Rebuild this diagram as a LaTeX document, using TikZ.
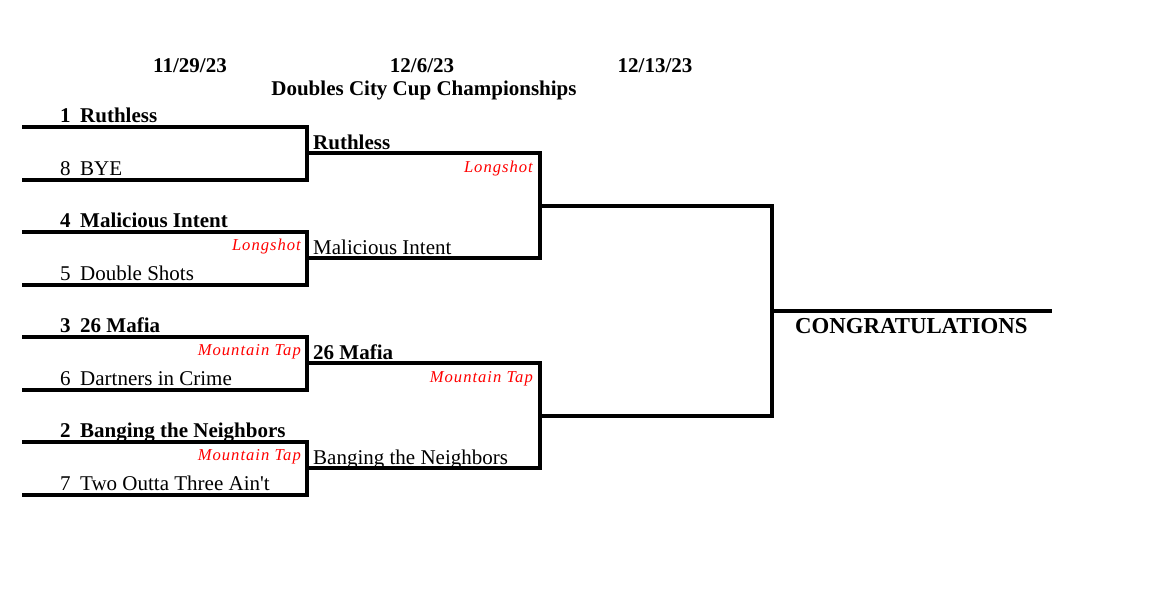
\documentclass[tikz,border=0pt]{standalone}
\usepackage{fontspec}
\setmainfont{Liberation Serif}[Ligatures=TeXOff]
\newfontfamily\notefont{Liberation Serif}[LetterSpace=6,Ligatures=TeXOff]
\begin{document}
\begin{tikzpicture}[x=1pt,y=-1pt,
  bk/.style={line width=4pt,line join=miter,line cap=butt},
  lose/.style={anchor=base west,inner sep=0pt,font=\fontsize{21}{21}\selectfont},
  win/.style={anchor=base west,inner sep=0pt,font=\fontsize{21}{21}\selectfont\bfseries},
  note/.style={anchor=base east,inner sep=0pt,text=red,font=\notefont\itshape\fontsize{16.6}{16.6}\selectfont},
  hdr/.style={anchor=base,inner sep=0pt,font=\fontsize{21}{21}\selectfont\bfseries}]
\useasboundingbox[fill=white] (0,0) rectangle (1172,600);

% headers
\node[hdr] (d1) at (190,72) {11/29/23};
\node[hdr] (d2) at (422,72) {12/6/23};
\node[hdr] (d3) at (655,72) {12/13/23};
\node[hdr] (title) at (424,95) {Doubles City Cup Championships};

% round 1 coordinates
\foreach \n/\y in {a/126.5,b/179.5,c/231.5,d/284.5,e/336.5,f/389.5,g/441.5,h/494.5}{
  \coordinate (s\n) at (22,\y);
  \coordinate (e\n) at (307,\y);
}
% round 2
\foreach \n/\y in {ab/153,cd/258,ef/363,gh/468}{
  \coordinate (s\n) at (307,\y);
  \coordinate (e\n) at (540,\y);
}
% round 3
\foreach \n/\y in {ad/205.5,eh/415.5}{
  \coordinate (s\n) at (540,\y);
  \coordinate (e\n) at (772,\y);
}
\coordinate (sfin) at (772,310.5);
\coordinate (efin) at (1052,310.5);

% brackets
\draw[bk] (sa) -- (ea) -- (eb) -- (sb);
\draw[bk] (sc) -- (ec) -- (ed) -- (sd);
\draw[bk] (se) -- (ee) -- (ef) -- (sf);
\draw[bk] (sg) -- (eg) -- (eh) -- (sh);
\draw[bk] (sab) -- (eab) -- (ecd) -- (scd);
\draw[bk] (sef) -- (eef) -- (egh) -- (sgh);
\draw[bk] (sad) -- (ead) -- (eeh) -- (seh);
\draw[bk] (sfin) -- (efin);

% round 1 teams
\node[win]  (n1) at (60,122.5) {1};  \node[win]  (t1) at (80,122.5) {Ruthless};
\node[lose] (n8) at (60,175.5) {8};  \node[lose] (t8) at (80,175.5) {BYE};
\node[win]  (n4) at (60,227.5) {4};  \node[win]  (t4) at (80,227.5) {Malicious Intent};
\node[lose] (n5) at (60,280.5) {5};  \node[lose] (t5) at (80,280.5) {Double Shots};
\node[win]  (n3) at (60,332.5) {3};  \node[win]  (t3) at (80,332.5) {26 Mafia};
\node[lose] (n6) at (60,385.5) {6};  \node[lose] (t6) at (80,385.5) {Dartners in Crime};
\node[win]  (n2) at (60,437.5) {2};  \node[win]  (t2) at (80,437.5) {Banging the Neighbors};
\node[lose] (n7) at (60,490.5) {7};  \node[lose] (t7) at (80,490.5) {Two Outta Three Ain't};

% round 2 teams
\node[win]  (r1) at (313,149) {Ruthless};
\node[lose] (r4) at (313,254) {Malicious Intent};
\node[win]  (r3) at (313,359) {26 Mafia};
\node[lose] (r2) at (313,464) {Banging the Neighbors};

% venue notes
\node[note] (v1) at (301,250) {Longshot};
\node[note] (v2) at (301,355) {Mountain Tap};
\node[note] (v3) at (301,460) {Mountain Tap};
\node[note] (v4) at (533,172) {Longshot};
\node[note] (v5) at (533,382) {Mountain Tap};

% final
\node[anchor=base west,inner sep=0pt,font=\fontsize{22.8}{22.8}\selectfont\bfseries] (cong) at (795,333) {CONGRATULATIONS};
\end{tikzpicture}
\end{document}
